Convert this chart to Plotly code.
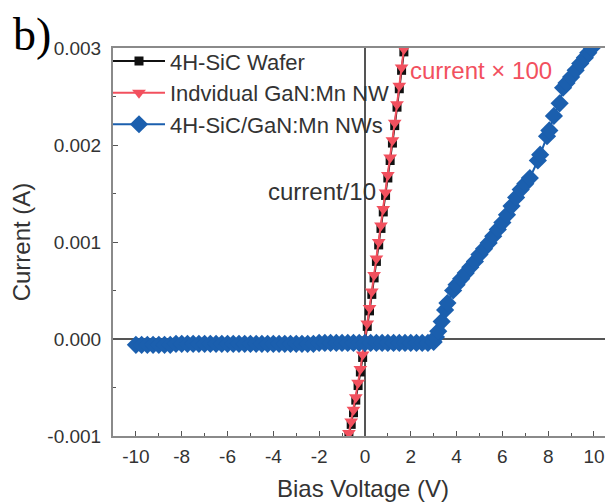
import plotly.graph_objects as go

# ---- data ----
wafer_v = [-0.7, -0.6, -0.5, -0.4, -0.3, -0.2, -0.1, 0.0, 0.1, 0.2, 0.3, 0.4,
           0.5, 0.6, 0.7, 0.8, 0.9, 1.0, 1.1, 1.2, 1.3, 1.4, 1.5, 1.6, 1.7]
wafer_i = [-0.00100, -0.00088, -0.00076, -0.00063, -0.00048, -0.00034, -0.00019,
           -0.00003, 0.00013, 0.00029, 0.00046, 0.00063, 0.00080, 0.00097,
           0.00114, 0.00131, 0.00148, 0.00166, 0.00184, 0.00202, 0.00220,
           0.00239, 0.00258, 0.00277, 0.00296]

nw_v = [-0.7, -0.6, -0.5, -0.4, -0.3, -0.2, -0.1, 0.0, 0.1, 0.2, 0.3, 0.4,
        0.5, 0.6, 0.7, 0.8, 0.9, 1.0, 1.1, 1.2, 1.3, 1.4, 1.5, 1.6, 1.7]
nw_i = [-0.00097, -0.00085, -0.00073, -0.00060, -0.00045, -0.00031, -0.00016,
        0.00000, 0.00016, 0.00032, 0.00049, 0.00066, 0.00083, 0.00100,
        0.00117, 0.00134, 0.00151, 0.00169, 0.00187, 0.00205, 0.00223,
        0.00242, 0.00261, 0.00280, 0.00299]

hetero_v = [-10.0, -9.75, -9.5, -9.25, -9.0, -8.75, -8.5, -8.25, -8.0, -7.75,
            -7.5, -7.25, -7.0, -6.75, -6.5, -6.25, -6.0, -5.75, -5.5, -5.25,
            -5.0, -4.75, -4.5, -4.25, -4.0, -3.75, -3.5, -3.25, -3.0, -2.75,
            -2.5, -2.25, -2.0, -1.75, -1.5, -1.25, -1.0, -0.75, -0.5, -0.25,
            0.0, 0.25, 0.5, 0.75, 1.0, 1.25, 1.5, 1.75, 2.0, 2.25, 2.5, 2.75,
            3.0, 3.1, 3.2, 3.35, 3.5, 3.6, 3.85, 4.0, 4.2, 4.4, 4.6, 4.8, 5.0,
            5.2, 5.4, 5.6, 5.8, 6.0, 6.2, 6.4, 6.6, 6.8, 7.0, 7.2, 7.55, 7.65,
            7.95, 8.05, 8.25, 8.5, 8.65, 8.8, 9.0, 9.2, 9.4, 9.6, 9.75, 9.9, 10.0]
hetero_i = [-0.00006, -0.00006, -0.00006, -0.00006, -0.00006, -0.00006,
            -0.00006, -0.00005, -0.00005, -0.00005, -0.00005, -0.00005,
            -0.00005, -0.00005, -0.00005, -0.00005, -0.00005, -0.00005,
            -0.00005, -0.00005, -0.00005, -0.00005, -0.00005, -0.00005,
            -0.00005, -0.00005, -0.00005, -0.00005, -0.00005, -0.00005,
            -0.00005, -0.00005, -0.00004, -0.00004, -0.00004, -0.00004,
            -0.00004, -0.00004, -0.00004, -0.00004, -0.00004, -0.00004,
            -0.00004, -0.00004, -0.00004, -0.00004, -0.00004, -0.00004,
            -0.00004, -0.00004, -0.00004, -0.00004, -0.00003,
            0.00002, 0.00008, 0.00018, 0.00030, 0.00037, 0.00050, 0.00056,
            0.00062, 0.00068, 0.00074, 0.00080, 0.00087, 0.00093, 0.00099,
            0.00106, 0.00113, 0.00120, 0.00128, 0.00137, 0.00146, 0.00154,
            0.00160, 0.00166, 0.00184, 0.00190, 0.00209, 0.00215, 0.00230,
            0.00243, 0.00259, 0.00264, 0.00270, 0.00277, 0.00284, 0.00290,
            0.00295, 0.00300, 0.00304]

series_names = ["4H-SiC Wafer", "Indvidual GaN:Mn NW", "4H-SiC/GaN:Mn NWs"]
x_ticks = [-10, -8, -6, -4, -2, 0, 2, 4, 6, 8, 10]
y_ticks = [-0.001, 0.000, 0.001, 0.002, 0.003]

BLACK = "#111111"
RED = "#f2505e"
BLUE = "#1b5fae"
FONT = "Liberation Sans, Arial, sans-serif"
TXT = "#333333"

fig = go.Figure()
fig.add_trace(go.Scatter(
    x=wafer_v, y=wafer_i, name=series_names[0], mode="lines+markers",
    legendgroup="a",
    line=dict(color=BLACK, width=2),
    marker=dict(symbol="square", size=9, color=BLACK)))
fig.add_trace(go.Scatter(
    x=nw_v, y=nw_i, name=series_names[1], mode="lines+markers",
    legendgroup="b",
    line=dict(color=RED, width=2),
    marker=dict(symbol="triangle-down", size=12, color=RED)))
fig.add_trace(go.Scatter(
    x=hetero_v, y=hetero_i, name=series_names[2], mode="lines+markers",
    legendgroup="c",
    line=dict(color=BLUE, width=2),
    marker=dict(symbol="diamond", size=14, color=BLUE)))

axis_common = dict(
    showgrid=False, automargin=False,
    showline=True, linecolor="#8a8a8a", linewidth=2,
    ticks="inside", ticklen=5, tickwidth=1, tickcolor="#555",
    tickfont=dict(family=FONT, size=19, color=TXT),
    zeroline=True, zerolinecolor="#555", zerolinewidth=1.5,
)

fig.update_xaxes(
    **axis_common,
    range=[-11, 10.83],
    tickvals=x_ticks,
    ticktext=[str(v) for v in x_ticks],
    mirror=True,
    ticklabelstandoff=2,
    minor=dict(ticks="inside", ticklen=3, dtick=1, tickcolor="#555"),
    title=dict(text="Bias Voltage (V)", font=dict(family=FONT, size=24, color=TXT),
               standoff=19),
)
fig.update_yaxes(
    **axis_common,
    range=[-0.001, 0.003],
    tickvals=y_ticks,
    ticktext=["%.3f" % v for v in y_ticks],
    ticklabelstandoff=6,
    minor=dict(ticks="inside", ticklen=3, dtick=0.0005, tickcolor="#555"),
    title=dict(text="Current (A)", font=dict(family=FONT, size=24, color=TXT),
               standoff=21),
)

fig.add_annotation(x=0.57, y=0.00152, xref="x", yref="y", text="current/10",
                   showarrow=False, xanchor="right", yanchor="middle",
                   font=dict(family=FONT, size=24, color=TXT))
fig.add_annotation(x=1.88, y=0.00277, xref="x", yref="y", text="current × 100",
                   showarrow=False, xanchor="left", yanchor="middle",
                   font=dict(family=FONT, size=24, color=RED))
fig.add_annotation(x=-0.204, y=1.036, xref="paper", yref="paper", text="b)",
                   showarrow=False, xanchor="left", yanchor="middle",
                   font=dict(family="Liberation Serif, Times New Roman, serif",
                             size=46, color="#000"))

# the page adds an 8 px body margin; the figure is sized to compensate
fig.update_layout(
    width=605, height=494,
    margin=dict(l=105, r=0, t=40, b=66, autoexpand=False),
    paper_bgcolor="white", plot_bgcolor="white",
    showlegend=True,
    legend=dict(x=-0.01, y=1.02, xanchor="left", yanchor="top",
                bgcolor="rgba(0,0,0,0)", borderwidth=0,
                font=dict(family=FONT, size=22, color=TXT),
                tracegroupgap=0, itemwidth=52),
)

fig.write_html("out.html")
